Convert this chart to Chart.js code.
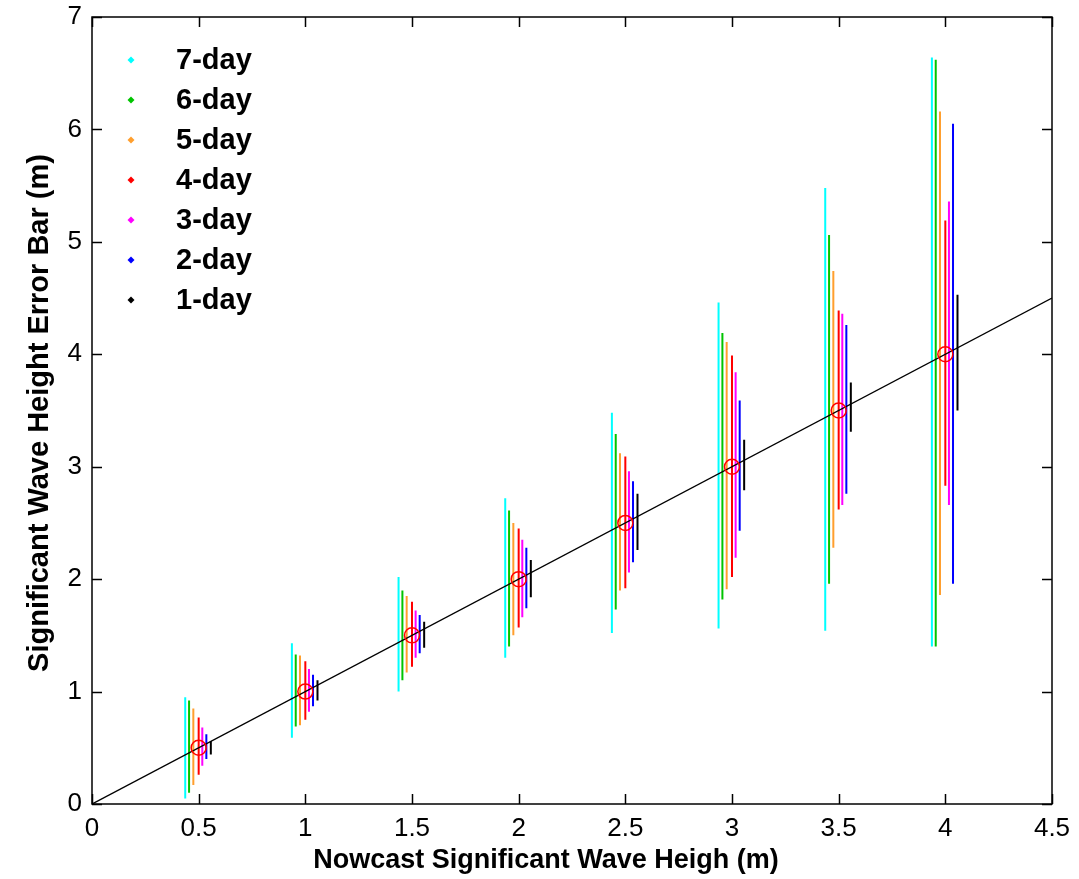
<!DOCTYPE html>
<html>
<head>
<meta charset="utf-8">
<title>Error bars by forecast lead</title>
<script src="https://cdn.jsdelivr.net/npm/chart.js@4.4.1/dist/chart.umd.min.js"></script>
<style>
  html, body { margin: 0; padding: 0; background: #fff; }
  #wrap { position: relative; width: 1079px; height: 879px; }
</style>
</head>
<body>
<div id="wrap"><canvas id="chart" width="1079" height="879"></canvas></div>
<script>
(function () {
    'use strict';

    // Nowcast wave heights (cluster centres) and axis ticks.
    var CENTERS = [0.5, 1, 1.5, 2, 2.5, 3, 3.5, 4];
    var X_TICKS = [0, 0.5, 1, 1.5, 2, 2.5, 3, 3.5, 4, 4.5];
    var Y_TICKS = [0, 1, 2, 3, 4, 5, 6, 7];

    // Forecast leads, legend order.
    var LABELS = ['7-day', '6-day', '5-day', '4-day', '3-day', '2-day', '1-day'];
    var COLORS = ['#00ffff', '#00c400', '#ff9f2e', '#ff0000', '#ff00ff', '#0000ff', '#000000'];
    // Small horizontal shift of each lead's bar around the centre.
    var OFFSETS = [-0.063, -0.045, -0.025, 0, 0.017, 0.036, 0.057];

    // Lower / upper ends of the error bars, one value per centre.
    var LOW_7 = [0.05, 0.59, 1.00, 1.30, 1.52, 1.56, 1.54, 1.40];
    var HIGH_7 = [0.95, 1.43, 2.02, 2.72, 3.48, 4.46, 5.48, 6.64];
    var LOW_6 = [0.10, 0.69, 1.10, 1.40, 1.73, 1.82, 1.96, 1.40];
    var HIGH_6 = [0.92, 1.33, 1.90, 2.61, 3.29, 4.19, 5.06, 6.62];
    var LOW_5 = [0.17, 0.70, 1.17, 1.50, 1.90, 1.91, 2.28, 1.86];
    var HIGH_5 = [0.85, 1.32, 1.85, 2.50, 3.12, 4.11, 4.74, 6.16];
    var LOW_4 = [0.26, 0.75, 1.22, 1.57, 1.92, 2.02, 2.62, 2.83];
    var HIGH_4 = [0.77, 1.27, 1.80, 2.45, 3.09, 3.99, 4.39, 5.19];
    var LOW_3 = [0.34, 0.82, 1.30, 1.66, 2.06, 2.19, 2.66, 2.66];
    var HIGH_3 = [0.68, 1.20, 1.72, 2.35, 2.96, 3.84, 4.36, 5.36];
    var LOW_2 = [0.40, 0.87, 1.34, 1.74, 2.15, 2.43, 2.76, 1.96];
    var HIGH_2 = [0.62, 1.15, 1.68, 2.28, 2.87, 3.59, 4.26, 6.05];
    var LOW_1 = [0.44, 0.92, 1.39, 1.84, 2.26, 2.79, 3.31, 3.50];
    var HIGH_1 = [0.56, 1.10, 1.62, 2.17, 2.76, 3.24, 3.75, 4.53];

    var LOWS = [LOW_7, LOW_6, LOW_5, LOW_4, LOW_3, LOW_2, LOW_1];
    var HIGHS = [HIGH_7, HIGH_6, HIGH_5, HIGH_4, HIGH_3, HIGH_2, HIGH_1];

    // Perfect-agreement line end points.
    var DIAG_X = [0, 4.5];

    var X_TITLE = 'Nowcast Significant Wave Heigh (m)';
    var Y_TITLE = 'Significant Wave Height Error Bar (m)';

    var FAMILY = "'Liberation Sans', Arial, sans-serif";

    /**
     * Vertical segments for one lead, broken by null points.
     */
    function barPoints(k) {
        var pts = [];
        CENTERS.forEach(function (c, i) {
            var x = c + OFFSETS[k];
            pts.push({ x: x, y: LOWS[k][i] });
            pts.push({ x: x, y: HIGHS[k][i] });
            pts.push({ x: x, y: null });
        });
        return pts;
    }

    var datasets = [];

    // Red open circles at the nowcast values.
    datasets.push({
        label: 'centre',
        type: 'scatter',
        data: CENTERS.map(function (c) { return { x: c, y: c }; }),
        pointStyle: 'circle',
        pointRadius: 7.5,
        pointBorderWidth: 1.5,
        borderColor: '#ff0000',
        backgroundColor: 'rgba(0,0,0,0)',
        order: 0
    });

    // y = x reference line.
    datasets.push({
        label: 'diag',
        data: DIAG_X.map(function (v) { return { x: v, y: v }; }),
        borderColor: '#000',
        borderWidth: 1.4,
        pointRadius: 0,
        order: 1
    });

    LABELS.forEach(function (name, k) {
        datasets.push({
            label: name,
            data: barPoints(k),
            borderColor: COLORS[k],
            borderWidth: 2,
            pointRadius: 0,
            spanGaps: false,
            order: 2
        });
    });

    /**
     * Box, inward ticks, legend and axis titles, MATLAB style.
     */
    var framePlugin = {
        id: 'frame',
        afterDraw: function (chart) {
            var ctx = chart.ctx;
            var a = chart.chartArea;
            var xs = chart.scales.x;
            var ys = chart.scales.y;
            var tick = 10;

            ctx.save();
            ctx.strokeStyle = '#000';
            ctx.lineWidth = 1.5;
            ctx.strokeRect(a.left, a.top, a.right - a.left, a.bottom - a.top);

            ctx.beginPath();
            X_TICKS.forEach(function (v) {
                var px = Math.round(xs.getPixelForValue(v)) + 0.5;
                ctx.moveTo(px, a.bottom);
                ctx.lineTo(px, a.bottom - tick);
                ctx.moveTo(px, a.top);
                ctx.lineTo(px, a.top + tick);
            });
            Y_TICKS.forEach(function (v) {
                var py = Math.round(ys.getPixelForValue(v)) + 0.5;
                ctx.moveTo(a.left, py);
                ctx.lineTo(a.left + tick, py);
                ctx.moveTo(a.right, py);
                ctx.lineTo(a.right - tick, py);
            });
            ctx.stroke();

            // Legend inside the axes, top-left.
            ctx.font = 'bold 29px ' + FAMILY;
            ctx.textBaseline = 'middle';
            ctx.textAlign = 'left';
            LABELS.forEach(function (name, k) {
                var y = 60 + k * 40;
                var mx = 131;
                ctx.fillStyle = COLORS[k];
                ctx.beginPath();
                ctx.moveTo(mx, y - 3.5);
                ctx.lineTo(mx + 3.5, y);
                ctx.lineTo(mx, y + 3.5);
                ctx.lineTo(mx - 3.5, y);
                ctx.closePath();
                ctx.fill();
                ctx.fillStyle = '#000';
                ctx.fillText(name, 176, y + 1);
            });

            // Axis titles.
            ctx.textAlign = 'center';
            ctx.font = 'bold 27px ' + FAMILY;
            ctx.fillText(X_TITLE, 546, 861);
            ctx.font = 'bold 29px ' + FAMILY;
            ctx.translate(40, 413);
            ctx.rotate(-Math.PI / 2);
            ctx.fillText(Y_TITLE, 0, 0);
            ctx.restore();
        }
    };

    function init() {
        Chart.defaults.font.family = FAMILY;
        Chart.defaults.color = '#000';

        var ctx = document.getElementById('chart').getContext('2d');
        new Chart(ctx, {
            type: 'line',
            data: { datasets: datasets },
            options: {
                responsive: false,
                animation: false,
                layout: { padding: { top: 17, right: 27, left: 0, bottom: 0 } },
                plugins: {
                    legend: { display: false },
                    tooltip: { enabled: false }
                },
                scales: {
                    x: {
                        type: 'linear',
                        min: 0,
                        max: 4.5,
                        afterBuildTicks: function (scale) {
                            scale.ticks = X_TICKS.map(function (v) { return { value: v }; });
                        },
                        afterFit: function (scale) {
                            scale.height = 75;
                            scale.paddingLeft = 0;
                            scale.paddingRight = 0;
                        },
                        grid: { display: false, drawTicks: false },
                        border: { display: false },
                        ticks: {
                            autoSkip: false,
                            maxRotation: 0,
                            padding: 9,
                            font: { size: 26 },
                            color: '#000',
                            callback: function (v) { return String(v); }
                        }
                    },
                    y: {
                        type: 'linear',
                        min: 0,
                        max: 7,
                        afterBuildTicks: function (scale) {
                            scale.ticks = Y_TICKS.map(function (v) { return { value: v }; });
                        },
                        afterFit: function (scale) {
                            scale.width = 92;
                            scale.paddingTop = 0;
                            scale.paddingBottom = 0;
                        },
                        grid: { display: false, drawTicks: false },
                        border: { display: false },
                        ticks: {
                            padding: 10,
                            font: { size: 26 },
                            color: '#000',
                            callback: function (v) { return String(v); }
                        }
                    }
                }
            },
            plugins: [framePlugin]
        });
    }

    init();
})();
</script>
</body>
</html>
